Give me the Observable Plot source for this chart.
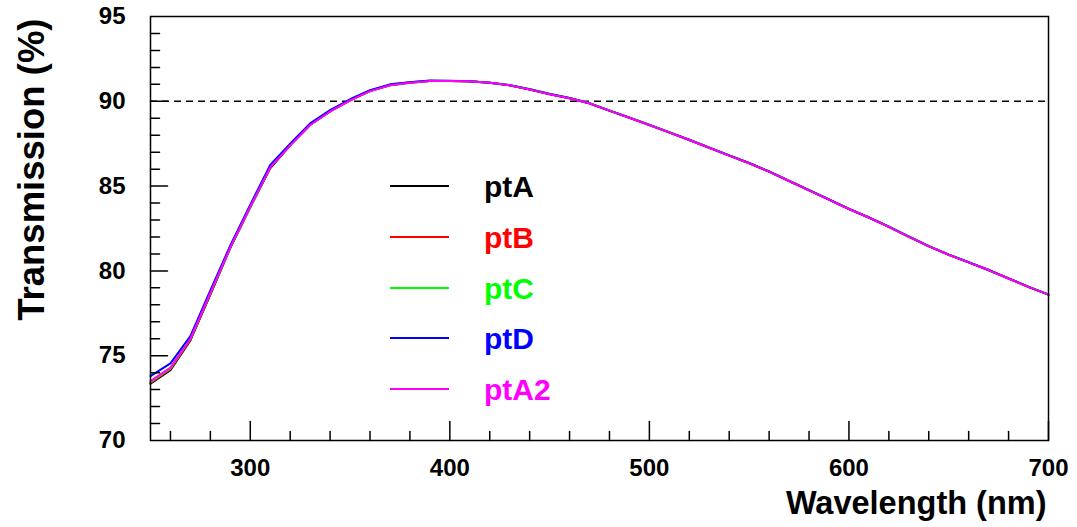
<!DOCTYPE html>
<html><head><meta charset="utf-8">
<script src="https://cdn.jsdelivr.net/npm/d3@7"></script>
<script src="https://cdn.jsdelivr.net/npm/@observablehq/plot@0.6"></script>
<style>
body{margin:0;background:#fff;font-family:"Liberation Sans",Arial,sans-serif;}
#wrap{position:relative;width:1077px;height:527px;}
#legend{position:absolute;left:390px;top:0;}
.row{position:absolute;left:0;display:flex;align-items:center;height:30px;white-space:nowrap;}
.sw{width:59px;height:2px;}
.lab{margin-left:35px;font-size:30px;font-weight:bold;line-height:30px;position:relative;top:1px;}
</style></head><body><div id="wrap"><div id="legend"></div></div>
<script>
const wavelengths = [250,260,270,280,290,300,310,320,330,340,350,360,370,380,390,400,410,420,430,440,450,460,470,480,490,500,510,520,530,540,550,560,570,580,590,600,610,620,630,640,650,660,670,680,690,700];

const ptA  = [73.35,74.15,75.9,78.6,81.35,83.75,86.05,87.4,88.6,89.4,90.05,90.6,90.95,91.1,91.2,91.2,91.18,91.1,90.95,90.7,90.42,90.18,89.88,89.45,89.03,88.6,88.17,87.72,87.26,86.8,86.35,85.85,85.3,84.75,84.2,83.65,83.15,82.6,82.02,81.46,80.95,80.5,80.05,79.55,79.06,78.6];
const ptB  = [73.4,74.2,75.95,78.65,81.4,83.8,86.1,87.42,88.62,89.42,90.06,90.62,90.96,91.12,91.2,91.2,91.17,91.1,90.94,90.7,90.43,90.18,89.87,89.44,89.02,88.6,88.16,87.72,87.25,86.8,86.34,85.85,85.3,84.76,84.2,83.65,83.14,82.6,82.01,81.45,80.95,80.5,80.04,79.55,79.05,78.6];
const ptC  = [73.45,74.25,76.0,78.7,81.4,83.8,86.12,87.45,88.62,89.45,90.08,90.62,90.97,91.12,91.21,91.2,91.18,91.1,90.96,90.72,90.44,90.2,89.9,89.46,89.05,88.62,88.18,87.74,87.28,86.82,86.36,85.87,85.32,84.77,84.22,83.67,83.16,82.62,82.03,81.47,80.97,80.52,80.06,79.56,79.07,78.61];
const ptD  = [73.8,74.55,76.15,78.85,81.5,83.9,86.25,87.5,88.7,89.48,90.12,90.66,91.0,91.13,91.22,91.21,91.18,91.1,90.95,90.71,90.43,90.19,89.88,89.45,89.04,88.61,88.17,87.73,87.27,86.81,86.36,85.86,85.31,84.76,84.21,83.66,83.15,82.61,82.02,81.46,80.96,80.51,80.05,79.56,79.06,78.6];
const ptA2 = [73.5,74.3,76.0,78.7,81.4,83.8,86.1,87.4,88.6,89.4,90.05,90.6,90.95,91.1,91.2,91.2,91.18,91.1,90.95,90.7,90.42,90.18,89.88,89.45,89.03,88.6,88.17,87.72,87.26,86.8,86.35,85.85,85.3,84.75,84.2,83.65,83.15,82.6,82.02,81.46,80.95,80.5,80.05,79.55,79.06,78.6];

const seriesNames = ["ptA","ptB","ptC","ptD","ptA2"];
const seriesColors = ["#000000","#ff0000","#00ff00","#0000ff","#ff00ff"];
const seriesValues = [ptA, ptB, ptC, ptD, ptA2];

const xTickLabels = [300,400,500,600,700];
const yTickLabels = [70,75,80,85,90,95];
const refLevel = [90];
const xTitle = "Wavelength (nm)";
const yTitle = "Transmission (%)";

const table = [];
seriesNames.forEach((name, i) => {
  wavelengths.forEach((w, j) => table.push({series: name, wavelength: w, value: seriesValues[i][j]}));
});

const xMinor = d3.range(260, 700, 20).filter(d => d % 100 !== 0);
const yMinor = d3.range(71, 95, 1).filter(d => d % 5 !== 0);
const xMajor = d3.range(300, 701, 100);
const yMajor = d3.range(75, 95, 5);

const tickShape = {draw(ctx, l) { ctx.moveTo(0, 0); ctx.lineTo(0, -l); }};

const chart = Plot.plot({
  width: 1077, height: 527,
  marginLeft: 150, marginRight: 29, marginTop: 16, marginBottom: 87,
  x: {domain: [250, 700]},
  y: {domain: [70, 95]},
  color: {domain: seriesNames, range: seriesColors},
  style: {fontFamily: "'Liberation Sans', Arial, sans-serif", color: "black", background: "white"},
  marks: [
    Plot.ruleY(refLevel, {stroke: "black", strokeWidth: 1.5, strokeDasharray: "7,5"}),
    Plot.line(table, {x: "wavelength", y: "value", z: "series", stroke: "series", strokeWidth: 2}),
    Plot.vector(xMinor, {x: d => d, frameAnchor: "bottom", length: 9, anchor: "start", shape: tickShape, stroke: "black", strokeWidth: 1.5}),
    Plot.vector(xMajor, {x: d => d, frameAnchor: "bottom", length: 19, anchor: "start", shape: tickShape, stroke: "black", strokeWidth: 1.5}),
    Plot.vector(yMinor, {y: d => d, frameAnchor: "left", length: 9, rotate: 90, anchor: "start", shape: tickShape, stroke: "black", strokeWidth: 1.5}),
    Plot.vector(yMajor, {y: d => d, frameAnchor: "left", length: 17, rotate: 90, anchor: "start", shape: tickShape, stroke: "black", strokeWidth: 1.5}),
    Plot.frame({stroke: "black", strokeWidth: 1.5}),
    Plot.axisX(xTickLabels, {tickSize: 0, tickPadding: 18, fontSize: 24, fontWeight: "bold", label: null}),
    Plot.axisY(yTickLabels, {tickSize: 0, tickPadding: 25, fontSize: 24, fontWeight: "bold", label: null}),
    Plot.text([xTitle], {text: d => d, frameAnchor: "bottom-right", textAnchor: "end", lineAnchor: "middle", dx: -2, dy: 63, fontSize: 32.5, fontWeight: "bold"}),
    Plot.text([yTitle], {text: d => d, frameAnchor: "top-left", rotate: -90, textAnchor: "end", lineAnchor: "middle", dx: -118.5, dy: 2, fontSize: 36.5, fontWeight: "bold"})
  ]
});
document.getElementById("wrap").prepend(chart);

const legend = document.getElementById("legend");
seriesNames.forEach((name, i) => {
  const row = document.createElement("div");
  row.className = "row";
  row.style.top = (171 + i * 50.75) + "px";
  const sw = document.createElement("div");
  sw.className = "sw";
  sw.style.background = seriesColors[i];
  const lab = document.createElement("div");
  lab.className = "lab";
  lab.style.color = seriesColors[i];
  lab.textContent = name;
  row.append(sw, lab);
  legend.append(row);
});
</script></body></html>
